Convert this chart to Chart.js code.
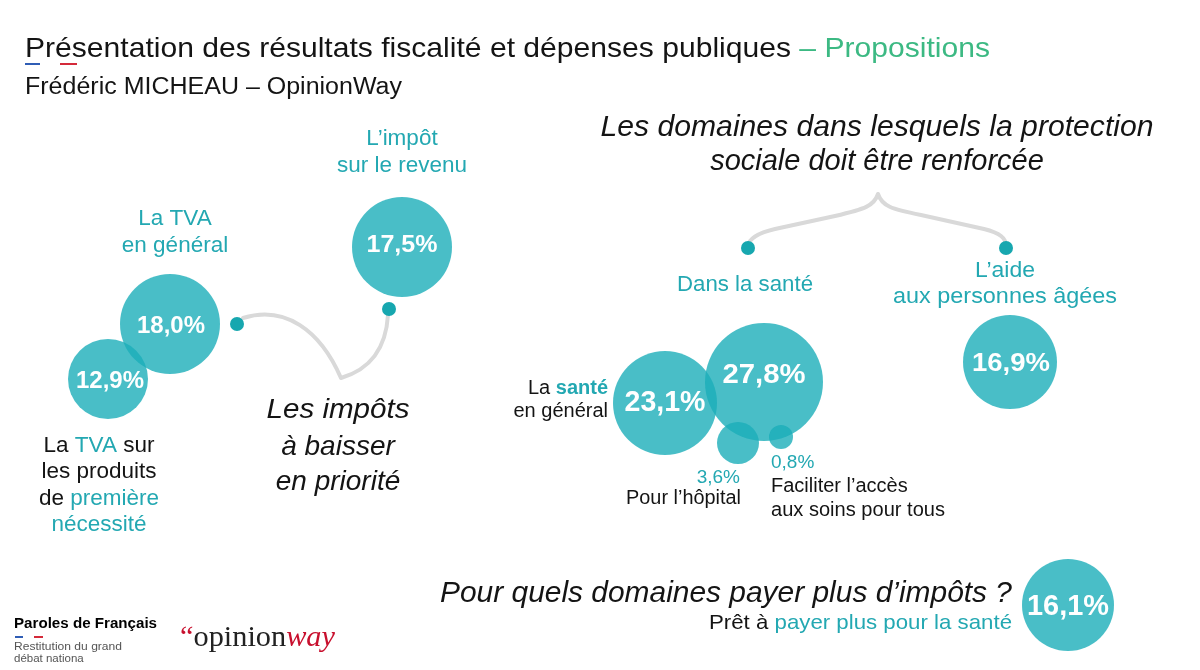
<!DOCTYPE html>
<html><head><meta charset="utf-8">
<script src="https://cdn.jsdelivr.net/npm/chart.js@4.4.1/dist/chart.umd.min.js"></script>
<style>html,body{margin:0;padding:0;background:#fff;overflow:hidden}#wrap{width:1200px;height:670px}</style>
</head><body><div id="wrap"><canvas id="c" width="1200" height="670"></canvas></div>
<script>
// ---- data ----
const bubbleNames = ['La TVA sur les produits de première nécessité', 'La TVA en général', 'L’impôt sur le revenu',
  'La santé en général', 'Dans la santé', 'Pour l’hôpital', 'Faciliter l’accès aux soins pour tous',
  'L’aide aux personnes âgées', 'Prêt à payer plus pour la santé'];
const bubbleValues = [12.9, 18.0, 17.5, 23.1, 27.8, 3.6, 0.8, 16.9, 16.1];

// ---- layout (positions / sizes in slide pixels) ----
const bubbleX = [108, 170, 402, 665, 764, 738, 781, 1010, 1068];
const bubbleY = [379, 324, 247, 403, 382, 443, 437, 362, 605];
const bubbleR = [40, 50, 50, 52, 59, 21, 12, 47, 46];
const labelDx = [2, 1, 0, 0, 0, 2, -10, 1, 0];
const labelDy = [0, 0, -4, -2, -9, 40, 31, 0, 0];
const labelSize = [24, 24, 24, 29, 28, 19, 19, 26, 29];
const labelW = [68, 68, 71, 81, 83, 0, 0, 78, 82];
const labelInside = [true, true, true, true, true, false, false, true, true];
const labelAlign = ['center','center','center','center','center','right','left','center','center'];
const dotX = [237, 389, 748, 1006];
const dotY = [324, 309, 248, 248];

const TEAL = '#23a8b2', DARK = '#141414', GREEN = '#3cb983';
const SANS = '"Liberation Sans", Arial, sans-serif';
const SERIF = '"Liberation Serif", "DejaVu Serif", serif';

const fmt = v => v.toFixed(1).replace('.', ',') + '%';

// text items: segments [text, color, bold, italic]
const texts = [
  {s:[['Présentation des résultats fiscalité et dépenses publiques',DARK],[' – Propositions',GREEN]], x:25, y:57, a:'left', z:28, w:965},
  {s:[['Frédéric MICHEAU – OpinionWay',DARK]], x:25, y:94, a:'left', z:23, w:377},
  {s:[['L’impôt',TEAL]], x:402, y:145, a:'center', z:22.5},
  {s:[['sur le revenu',TEAL]], x:402, y:172, a:'center', z:22.5},
  {s:[['La TVA',TEAL]], x:175, y:225, a:'center', z:22.5},
  {s:[['en général',TEAL]], x:175, y:252, a:'center', z:22.5},
  {s:[['La ',DARK],['TVA',TEAL],[' sur',DARK]], x:99, y:452, a:'center', z:22.5},
  {s:[['les produits',DARK]], x:99, y:478, a:'center', z:22.5},
  {s:[['de ',DARK],['première',TEAL]], x:99, y:505, a:'center', z:22.5},
  {s:[['nécessité',TEAL]], x:99, y:531, a:'center', z:22.5},
  {s:[['Les impôts',DARK,false,true]], x:338, y:418, a:'center', z:28, w:143},
  {s:[['à baisser',DARK,false,true]], x:338, y:455, a:'center', z:28},
  {s:[['en priorité',DARK,false,true]], x:338, y:490, a:'center', z:28},
  {s:[['Les domaines dans lesquels la protection',DARK,false,true]], x:877, y:136, a:'center', z:29, w:553},
  {s:[['sociale doit être renforcée',DARK,false,true]], x:877, y:170, a:'center', z:29},
  {s:[['Dans la santé',TEAL]], x:745, y:291, a:'center', z:22, w:136},
  {s:[['L’aide',TEAL]], x:1005, y:277, a:'center', z:22.5, w:60},
  {s:[['aux personnes âgées',TEAL]], x:1005, y:303, a:'center', z:22, w:224},
  {s:[['La ',DARK],['santé',TEAL,true]], x:608, y:394, a:'right', z:20},
  {s:[['en général',DARK]], x:608, y:417, a:'right', z:20},
  {s:[['Pour l’hôpital',DARK]], x:741, y:504, a:'right', z:20, w:115},
  {s:[['Faciliter l’accès',DARK]], x:771, y:492, a:'left', z:20},
  {s:[['aux soins pour tous',DARK]], x:771, y:516, a:'left', z:20, w:174},
  {s:[['Pour quels domaines payer plus d’impôts ?',DARK,false,true]], x:1012, y:602, a:'right', z:30, w:572},
  {s:[['Prêt à ',DARK],['payer plus pour la santé',TEAL]], x:1012, y:629, a:'right', z:21, w:303},
  {s:[['Paroles de Français','#000',true]], x:14, y:628, a:'left', z:14, w:143},
  {s:[['Restitution du grand','#555']], x:14, y:650, a:'left', z:11.5, w:108},
  {s:[['débat nationa','#555']], x:14, y:662, a:'left', z:11.5},
  {s:[['“','#c8102e'],['opinion','#222'],['way','#c8102e',false,true]], x:180, y:646, a:'left', z:30, w:155, f:SERIF}
];

function fontOf(z, bold, italic, fam) {
  return (italic ? 'italic ' : '') + (bold ? 'bold ' : '') + z + 'px ' + (fam || SANS);
}
function rich(ctx, t) {
  ctx.save();
  let total = 0;
  const ws = t.s.map(sg => { ctx.font = fontOf(t.z, sg[2], sg[3], t.f); const w = ctx.measureText(sg[0]).width; total += w; return w; });
  const sx = t.w ? t.w / total : 1;
  const tw = total * sx;
  let x0 = t.a === 'left' ? t.x : t.a === 'right' ? t.x - tw : t.x - tw / 2;
  ctx.translate(x0, t.y);
  ctx.scale(sx, 1);
  ctx.textBaseline = 'alphabetic';
  ctx.textAlign = 'left';
  let cx = 0;
  t.s.forEach((sg, i) => {
    ctx.font = fontOf(t.z, sg[2], sg[3], t.f);
    ctx.fillStyle = sg[1];
    ctx.fillText(sg[0], cx, 0);
    cx += ws[i];
  });
  ctx.restore();
}

const deco = {
  id: 'deco',
  beforeDatasetsDraw(chart) {
    const ctx = chart.ctx, X = v => chart.scales.x.getPixelForValue(v), Y = v => chart.scales.y.getPixelForValue(v);
    ctx.save();
    ctx.strokeStyle = '#d9d9d9'; ctx.lineWidth = 4; ctx.lineCap = 'round'; ctx.lineJoin = 'round';
    // left connector
    ctx.beginPath();
    ctx.moveTo(X(243), Y(318));
    ctx.bezierCurveTo(X(285), Y(305), X(320), Y(330), X(341), Y(378));
    ctx.quadraticCurveTo(X(385), Y(365), X(388), Y(315));
    ctx.stroke();
    // brace
    ctx.beginPath();
    ctx.moveTo(X(878), Y(194));
    ctx.bezierCurveTo(X(874), Y(206), X(865), Y(209), X(835), Y(216));
    ctx.lineTo(X(775), Y(229));
    ctx.bezierCurveTo(X(758), Y(233), X(749), Y(238), X(748), Y(246));
    ctx.moveTo(X(878), Y(194));
    ctx.bezierCurveTo(X(882), Y(206), X(891), Y(209), X(921), Y(215));
    ctx.lineTo(X(984), Y(229));
    ctx.bezierCurveTo(X(1000), Y(233), X(1006), Y(238), X(1006), Y(246));
    ctx.stroke();
    // title underline marks
    ctx.fillStyle = '#2f5db5'; ctx.fillRect(X(25), Y(63), 15, 2);
    ctx.fillStyle = '#d42a3a'; ctx.fillRect(X(60), Y(63), 17, 2);
    // logo dashes
    ctx.fillStyle = '#2f5db5'; ctx.fillRect(X(15), Y(636), 8, 2);
    ctx.fillStyle = '#d42a3a'; ctx.fillRect(X(34), Y(636), 9, 2);
    ctx.restore();
  },
  afterDatasetsDraw(chart) {
    const ctx = chart.ctx;
    const meta = chart.getDatasetMeta(0);
    meta.data.forEach((el, i) => {
      const inside = labelInside[i];
      rich(ctx, {
        s: [[fmt(bubbleValues[i]), inside ? '#fff' : TEAL, inside]],
        x: el.x + labelDx[i], y: el.y + labelDy[i] + (inside ? labelSize[i] * 0.36 : 0),
        a: labelAlign[i], z: labelSize[i], w: labelW[i] || 0
      });
    });
    texts.forEach(t => rich(ctx, t));
  }
};

new Chart(document.getElementById('c'), {
  type: 'bubble',
  data: {
    labels: bubbleNames,
    datasets: [
      {
        label: 'Résultats',
        data: bubbleValues.map((v, i) => ({x: bubbleX[i], y: bubbleY[i], r: bubbleR[i], v: v})),
        backgroundColor: 'rgba(28,174,185,0.8)',
        borderWidth: 0,
        clip: false
      },
      {
        label: 'Repères',
        data: dotX.map((x, i) => ({x: x, y: dotY[i], r: 7})),
        backgroundColor: '#17a7af',
        borderWidth: 0,
        clip: false
      }
    ]
  },
  options: {
    responsive: false,
    animation: false,
    devicePixelRatio: 1,
    events: [],
    layout: {padding: 0, autoPadding: false},
    plugins: {legend: {display: false}, tooltip: {enabled: false}},
    scales: {
      x: {type: 'linear', min: 0, max: 1200, display: false},
      y: {type: 'linear', min: 0, max: 670, reverse: true, display: false}
    }
  },
  plugins: [deco]
});
</script></body></html>
